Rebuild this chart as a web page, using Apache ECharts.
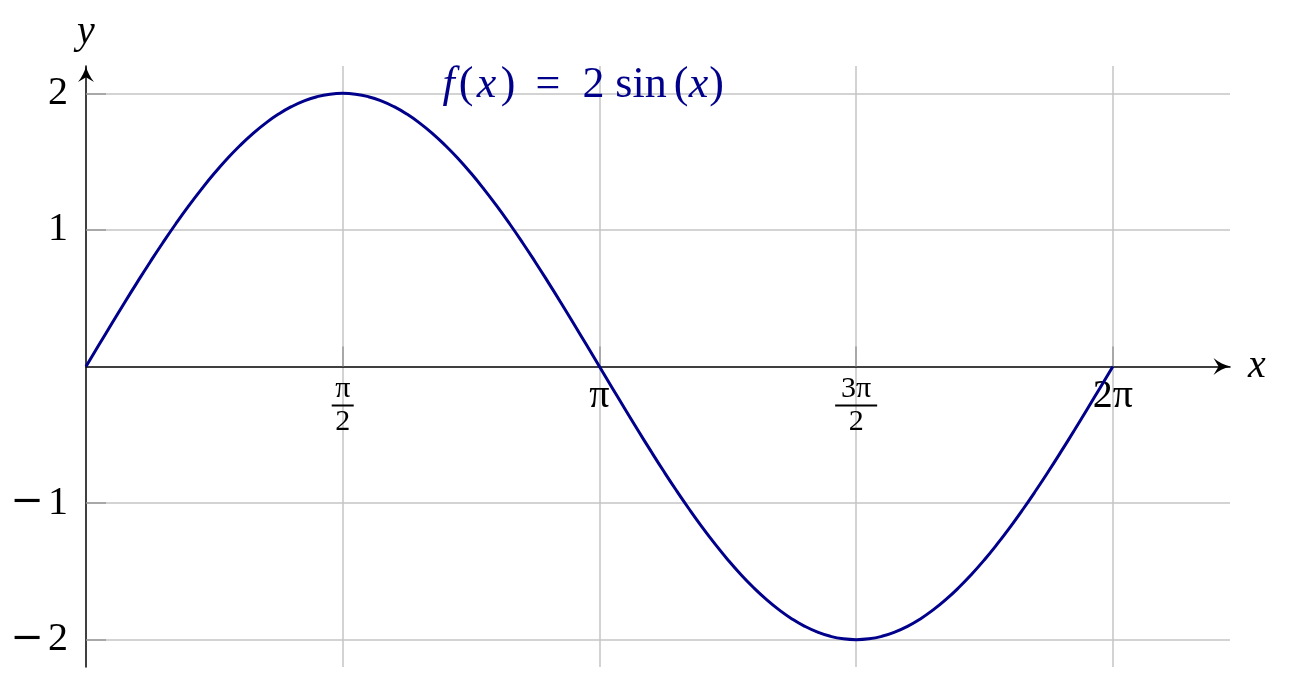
<!DOCTYPE html>
<html>
<head>
<meta charset="utf-8">
<script src="https://cdn.jsdelivr.net/npm/echarts@6.0.0/dist/echarts.min.js"></script>
<style>
  html, body { margin: 0; padding: 0; background: #fff; }
  #chart { width: 1294px; height: 690px; }
</style>
</head>
<body>
<div id="chart"></div>
<script>
// Curve samples: f(x) = 2 sin(x)
const xValues = [0, 0.0785, 0.1571, 0.2356, 0.3142, 0.3927, 0.4712, 0.5498, 0.6283, 0.7069, 0.7854,
  0.8639, 0.9425, 1.0210, 1.0996, 1.1781, 1.2566, 1.3352, 1.4137, 1.4923, 1.5708,
  1.6493, 1.7279, 1.8064, 1.8850, 1.9635, 2.0420, 2.1206, 2.1991, 2.2777, 2.3562,
  2.4347, 2.5133, 2.5918, 2.6704, 2.7489, 2.8274, 2.9060, 2.9845, 3.0631, 3.1416,
  3.2201, 3.2987, 3.3772, 3.4558, 3.5343, 3.6128, 3.6914, 3.7699, 3.8485, 3.9270,
  4.0055, 4.0841, 4.1626, 4.2412, 4.3197, 4.3982, 4.4768, 4.5553, 4.6339, 4.7124,
  4.7909, 4.8695, 4.9480, 5.0265, 5.1051, 5.1836, 5.2622, 5.3407, 5.4192, 5.4978,
  5.5763, 5.6549, 5.7334, 5.8119, 5.8905, 5.9690, 6.0476, 6.1261, 6.2046, 6.2832];
const yValues = [0, 0.1569, 0.3129, 0.4669, 0.6180, 0.7654, 0.9080, 1.0450, 1.1756, 1.2989, 1.4142,
  1.5208, 1.6180, 1.7053, 1.7820, 1.8478, 1.9021, 1.9447, 1.9754, 1.9938, 2,
  1.9938, 1.9754, 1.9447, 1.9021, 1.8478, 1.7820, 1.7053, 1.6180, 1.5208, 1.4142,
  1.2989, 1.1756, 1.0450, 0.9080, 0.7654, 0.6180, 0.4669, 0.3129, 0.1569, 0,
  -0.1569, -0.3129, -0.4669, -0.6180, -0.7654, -0.9080, -1.0450, -1.1756, -1.2989, -1.4142,
  -1.5208, -1.6180, -1.7053, -1.7820, -1.8478, -1.9021, -1.9447, -1.9754, -1.9938, -2,
  -1.9938, -1.9754, -1.9447, -1.9021, -1.8478, -1.7820, -1.7053, -1.6180, -1.5208, -1.4142,
  -1.2989, -1.1756, -1.0450, -0.9080, -0.7654, -0.6180, -0.4669, -0.3129, -0.1569, 0];

const xTickValues = [1.5708, 3.1416, 4.7124, 6.2832];
const xTickNumerators = ['π', 'π', '3π', '2π'];
const xTickDenominators = ['2', '', '2', ''];
const yTickValues = [-2, -1, 1, 2];
const yTickLabels = ['−2', '−1', '1', '2'];
const seriesName = 'f(x) = 2 sin(x)';

const FONT = '"Liberation Serif", "DejaVu Serif", serif';
const NAVY = '#00008b';
const GRID = '#c4c4c4';
const ARROW = 'path://M50 0 C56 32 76 70 100 100 L50 70 L0 100 C24 70 44 32 50 0 Z';

function closestIndex(arr, v) {
  let best = 0;
  for (let i = 1; i < arr.length; i++) if (Math.abs(arr[i] - v) < Math.abs(arr[best] - v)) best = i;
  return best;
}

const chart = echarts.init(document.getElementById('chart'), null, { renderer: 'canvas' });

const tStyle = (italic, w) => ({
  fontFamily: FONT, fontSize: 44, fontStyle: italic ? 'italic' : 'normal',
  fontWeight: 'normal', color: NAVY, width: w, align: 'center'
});

const option = {
  animation: false,
  backgroundColor: '#fff',
  title: {
    text: '{f|f}{lp|(}{x|x}{rp|)}{eq|=}{two|2}{sin|sin}{lp2|(}{x2|x}{rp2|)}',
    left: 438,
    top: 63,
    padding: 0,
    textStyle: {
      fontFamily: FONT,
      fontSize: 44,
      fontWeight: 'normal',
      color: NAVY,
      rich: {
        f: tStyle(true, 21),
        lp: tStyle(false, 14),
        x: tStyle(true, 27),
        rp: tStyle(false, 16),
        eq: tStyle(false, 64),
        two: tStyle(false, 27),
        sin: tStyle(false, 68),
        lp2: tStyle(false, 12),
        x2: tStyle(true, 23),
        rp2: tStyle(false, 13)
      }
    }
  },
  grid: {
    left: 86, right: 64, top: 66, bottom: 23,
    containLabel: false,
    outerBoundsMode: 'none'
  },
  xAxis: {
    type: 'value',
    min: 0,
    max: 7,
    position: 'bottom',
    offset: -300.5,
    name: 'x',
    nameLocation: 'end',
    nameGap: 18,
    nameMoveOverlap: false,
    nameTextStyle: { fontFamily: FONT, fontSize: 40, fontStyle: 'italic', color: '#000', verticalAlign: 'middle' },
    axisLine: {
      show: true,
      onZero: false,
      symbol: ['none', ARROW],
      symbolSize: [17, 17],
      symbolOffset: [0, -8],
      lineStyle: { color: '#000', width: 1.5 }
    },
    axisTick: {
      show: true,
      inside: true,
      length: 20,
      customValues: xTickValues,
      lineStyle: { color: '#9a9a9a', width: 1.5 }
    },
    axisLabel: {
      show: true,
      margin: 10,
      customValues: xTickValues,
      fontFamily: FONT,
      color: '#000',
      formatter: function (v) {
        const i = closestIndex(xTickValues, v);
        if (xTickDenominators[i]) {
          const barStyle = xTickNumerators[i].length > 1 ? 'barw' : 'bar';
          return '{num|' + xTickNumerators[i] + '}\n{' + barStyle + '| }\n{den|' + xTickDenominators[i] + '}';
        }
        return '{big|' + xTickNumerators[i] + '}';
      },
      rich: {
        big: { fontFamily: FONT, fontSize: 40, lineHeight: 40, color: '#000' },
        num: { fontFamily: FONT, fontSize: 30, lineHeight: 26, color: '#000' },
        bar: { width: 22, height: 2, lineHeight: 6, fontSize: 2, backgroundColor: '#000' },
        barw: { width: 42, height: 2, lineHeight: 6, fontSize: 2, backgroundColor: '#000' },
        den: { fontFamily: FONT, fontSize: 30, lineHeight: 28, color: '#000' }
      }
    },
    splitLine: {
      show: true,
      lineStyle: { color: GRID, width: 1.5 }
    }
  },
  yAxis: {
    type: 'value',
    min: -2.2,
    max: 2.2,
    name: 'y',
    nameLocation: 'end',
    nameGap: 14,
    nameMoveOverlap: false,
    nameTextStyle: { fontFamily: FONT, fontSize: 40, fontStyle: 'italic', color: '#000', align: 'center' },
    axisLine: {
      show: true,
      onZero: false,
      symbol: ['none', ARROW],
      symbolSize: [16, 16],
      symbolOffset: [0, -8],
      lineStyle: { color: '#000', width: 1.5 }
    },
    axisTick: {
      show: true,
      inside: true,
      length: 20,
      customValues: yTickValues,
      lineStyle: { color: '#9a9a9a', width: 1.5 }
    },
    axisLabel: {
      show: true,
      margin: 18,
      customValues: yTickValues,
      fontFamily: FONT,
      fontSize: 40,
      color: '#000',
      formatter: function (v) {
        const s = yTickLabels[closestIndex(yTickValues, v)];
        if (s.charAt(0) === '−') return '{m|−}{d|' + s.slice(1) + '}';
        return '{d|' + s + '}';
      },
      rich: {
        m: { fontFamily: '"DejaVu Serif", serif', fontSize: 40, color: '#000', padding: [0, 4, 0, 0] },
        d: { fontFamily: FONT, fontSize: 40, color: '#000' }
      }
    },
    splitLine: {
      show: true,
      lineStyle: { color: GRID, width: 1.5 }
    }
  },
  series: [{
    name: seriesName,
    type: 'line',
    data: xValues.map((x, i) => [x, yValues[i]]),
    smooth: true,
    showSymbol: false,
    symbol: 'none',
    clip: false,
    lineStyle: { color: NAVY, width: 3 },
    z: 5
  }]
};

chart.setOption(option);
</script>
</body>
</html>
